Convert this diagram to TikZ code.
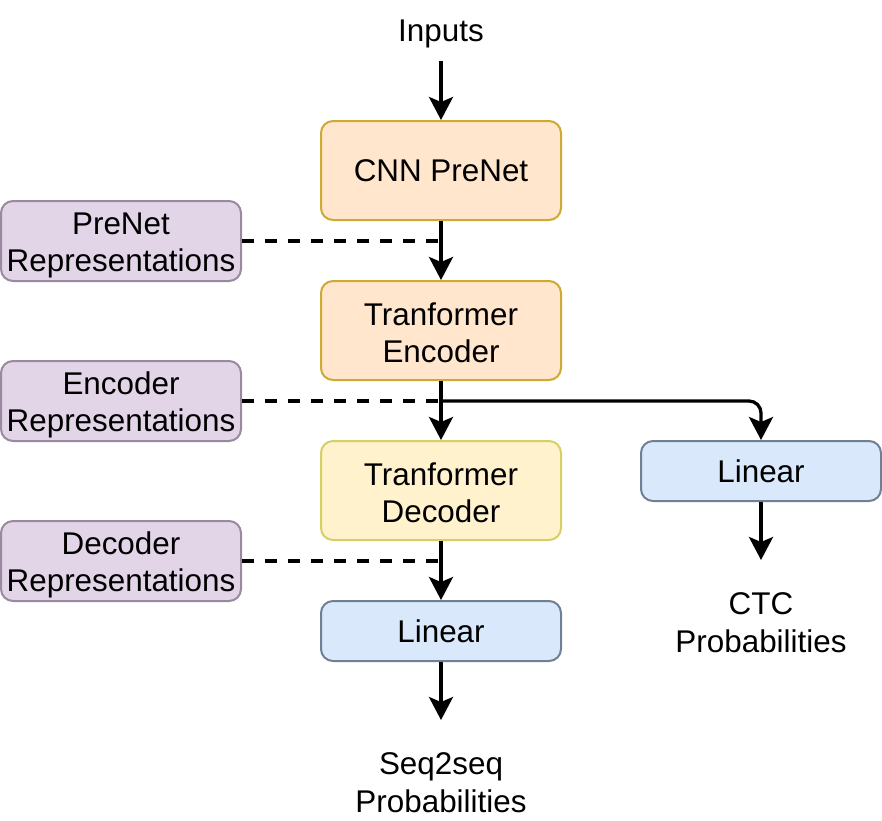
\documentclass[tikz,border=0pt]{standalone}
\usepackage{fontspec}
\setmainfont{Liberation Sans}
\usetikzlibrary{arrows.meta}
\definecolor{orF}{HTML}{FFE6CC}
\definecolor{orD}{HTML}{CCAA33}
\definecolor{yeF}{HTML}{FFF2CC}
\definecolor{yeD}{HTML}{D6CF66}
\definecolor{puF}{HTML}{E1D5E7}
\definecolor{puD}{HTML}{9A8AA0}
\definecolor{blF}{HTML}{DAE8FC}
\definecolor{blD}{HTML}{6F7F95}
\newcommand{\fl}{\rule{0pt}{30pt}}
\newcommand{\flt}{\rule{0pt}{27pt}}
\tikzset{
  box/.style={rectangle, rounded corners=12pt, line width=2pt, minimum width=240pt, inner sep=0pt, align=center, font=\fontsize{31.4}{37.5}\selectfont},
  orbox/.style={box, fill=orF, draw=orD, minimum height=99pt},
  yebox/.style={box, fill=yeF, draw=yeD, minimum height=99pt},
  pubox/.style={box, fill=puF, draw=puD, minimum height=80pt},
  blbox/.style={box, fill=blF, draw=blD, minimum height=60pt},
  lbl/.style={align=center, inner sep=0pt, font=\fontsize{31.4}{37.5}\selectfont},
  arr/.style={line width=3.3pt, -{Stealth[length=23pt,width=24pt,inset=5pt]}},
  dashline/.style={line width=3.3pt, dash pattern=on 12pt off 11pt}
}
\begin{document}
\begin{tikzpicture}[x=1pt,y=-1pt]
\useasboundingbox (0,0) rectangle (882,820);
\node[lbl] (inputs) at (441,34) {Inputs};
\node[orbox] (cnn) at (441,170.5) {CNN PreNet};
\node[orbox] (enc) at (441,330.5) {\flt Tranformer\\Encoder};
\node[yebox] (dec) at (441,490.5) {\flt Tranformer\\Decoder};
\node[blbox] (linB) at (441,631) {Linear};
\node[blbox] (linR) at (761,471) {Linear};
\node[pubox] (preR) at (121,241) {\fl PreNet\\Representations};
\node[pubox] (encR) at (121,401) {\fl Encoder\\Representations};
\node[pubox] (decR) at (121,561) {\fl Decoder\\Representations};
\node[lbl] (seq) at (441,782.5) {Seq2seq\\Probabilities};
\node[lbl] (ctc) at (761,622.5) {CTC\\Probabilities};
\coordinate (inA) at (441,61);
\coordinate (jE) at (441,401);
\coordinate (outB) at (441,720);
\coordinate (outR) at (761,560);
\draw[arr] (inA) -- (cnn.north);
\draw[dashline] (preR.east) -- (preR.east -| cnn.south);
\draw[dashline] (encR.east) -- (encR.east -| enc.south);
\draw[dashline] (decR.east) -- (decR.east -| dec.south);
\draw[arr] (cnn.south) -- (enc.north);
\draw[arr] (enc.south) -- (dec.north);
\draw[arr, rounded corners=12pt] (jE) -| (linR.north);
\draw[arr] (dec.south) -- (linB.north);
\draw[arr] (linB.south) -- (outB);
\draw[arr] (linR.south) -- (outR);
\end{tikzpicture}
\end{document}
